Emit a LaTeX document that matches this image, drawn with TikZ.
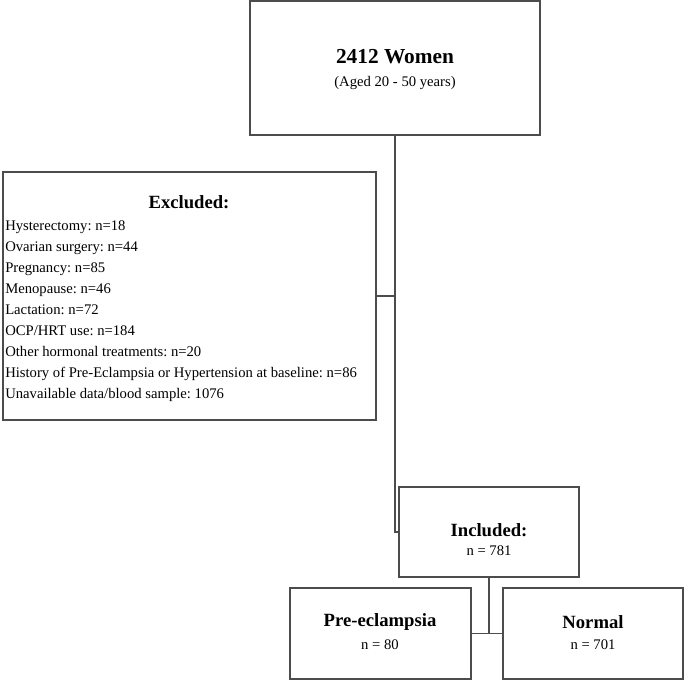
\documentclass[tikz,border=0pt]{standalone}
\usepackage{fontspec}
\setmainfont{Liberation Serif}
\usetikzlibrary{fit}
\frenchspacing

\begin{document}
\begin{tikzpicture}[x=0.75pt, y=-0.75pt,
    box/.style={draw=black!70, line width=1pt, inner sep=0pt},
    conn/.style={draw=black!70, line width=1pt},
    head/.style={font=\fontsize{14}{16}\selectfont\bfseries},
    sub/.style={font=\fontsize{11}{13}\selectfont}]
  \useasboundingbox (0,0) rectangle (685,680);
  % boxes, corners given in px of the chart
  \node[box, fit={(250,1) (540,135)}] (women) {};
  \node[box, fit={(3,172) (376,420)}] (excl) {};
  \node[box, fit={(399,487) (579,577)}] (incl) {};
  \node[box, fit={(290,588) (471,679)}] (pre) {};
  \node[box, fit={(503,588) (683,679)}] (norm) {};
  % texts
  \node[font=\fontsize{16}{18}\selectfont\bfseries] (womenT) at (395,57) {2412 Women};
  \node[sub] (womenS) at (395,83) {(Aged 20 - 50 years)};
  \node[head] (exclT) at (189,202) {Excluded:};
  \foreach \lab [count=\i from 0] in {%
      {Hysterectomy: n=18},
      {Ovarian surgery: n=44},
      {Pregnancy: n=85},
      {Menopause: n=46},
      {Lactation: n=72},
      {OCP/HRT use: n=184},
      {Other hormonal treatments: n=20},
      {History of Pre-Eclampsia or Hypertension at baseline: n=86},
      {Unavailable data/blood sample: 1076}}
    \node[sub, anchor=base west, inner sep=0pt] (ex\i) at (5,{231+21*\i}) {\lab};
  \node[head] (inclT) at (489,530) {Included:};
  \node[sub] (inclN) at (489,551) {n = 781};
  \node[head] (preT) at (380,622) {Pre-eclampsia};
  \node[sub] (preN) at (380,645) {n = 80};
  \node[head] (normT) at (593,622) {Normal};
  \node[sub] (normN) at (593,645) {n = 701};
  % connectors
  \draw[conn] (women.south) |- (incl.west);
  \draw[conn] (excl.east) -- (excl.east -| women.south);
  \draw[conn] (incl.south) |- (pre.east);
  \draw[conn] (pre.east) -- (norm.west);
\end{tikzpicture}
\end{document}
